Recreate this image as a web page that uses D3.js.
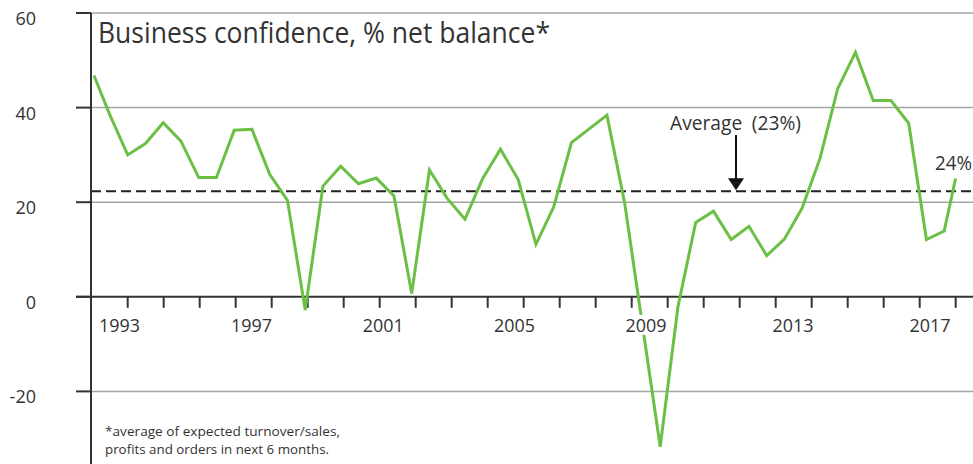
<!DOCTYPE html>
<html>
<head>
<meta charset="utf-8">
<script src="https://cdn.jsdelivr.net/npm/d3@7"></script>
<style>
  body { margin: 0; background: #fff; }
  text { font-family: "Open Sans", "Noto Sans", sans-serif; fill: #333; }
</style>
</head>
<body>
<div id="chart"></div>
<script>
// half-year periods, period 0 sits on the 1993 tick
const periods = [-1.9, -1, 0, 1, 2, 3, 4, 5, 6, 7, 8, 9, 10, 11, 12, 13, 14, 15, 16, 17, 18, 19,
    20, 21, 22, 23, 24, 25, 26, 27, 28, 29, 30, 31, 32, 33, 34, 35, 36, 37, 38, 39, 40, 41,
    42, 43, 44, 45, 46, 46.64];
const confidence = [46.8, 38.4, 30.0, 32.4, 36.8, 32.9, 25.2, 25.2, 35.2, 35.4, 25.9, 20.4,
    -2.8, 23.4, 27.6, 23.9, 25.1, 21.3, 0.7, 26.8, 20.8, 16.4, 25.0, 31.2, 24.8, 11.1, 19.0,
    32.6, 35.5, 38.4, 19.8, -6.0, -31.7, -2.1, 15.7, 18.1, 12.1, 14.9, 8.7, 12.2, 18.8, 29.2,
    44.0, 51.7, 41.5, 41.5, 36.7, 12.1, 13.9, 25.0];

const average = 22.3;
const yTicks = [60, 40, 20, 0, -20];
const tickYears = d3.range(1993, 2017);
const yearLabels = ["1993", "1997", "2001", "2005", "2009", "2013", "2017"];
const yearLabelAt = [-0.46, 6.97, 14.4, 21.79, 29.2, 37.48, 45.2];

const width = 973,
    height = 464;

const svg = d3.select("#chart").append("svg")
    .attr("width", width)
    .attr("height", height);

const x = d3.scaleLinear().domain([0, 46]).range([127.7, 944.2]);
const xYear = d3.scaleLinear().domain([1993, 2016]).range([127.7, 955.7]);
const y = d3.scaleLinear().domain([-20, 60]).range([391.4, 13]);
const axisX = 91;

// gridlines
svg.selectAll(".grid")
    .data(yTicks.filter(d => d !== 0))
    .enter()
    .append("line")
    .attr("x1", axisX)
    .attr("x2", width)
    .attr("y1", d => y(d))
    .attr("y2", d => y(d))
    .attr("stroke", "#a3a3a3")
    .attr("stroke-width", 1.5);

// average
svg.append("line")
    .attr("x1", axisX)
    .attr("x2", width)
    .attr("y1", y(average))
    .attr("y2", y(average))
    .attr("stroke", "#222")
    .attr("stroke-width", 2)
    .attr("stroke-dasharray", "10,5");

// zero line + y ticks
svg.append("line")
    .attr("x1", 76)
    .attr("x2", width)
    .attr("y1", y(0))
    .attr("y2", y(0))
    .attr("stroke", "#333")
    .attr("stroke-width", 2);

svg.selectAll(".ytick")
    .data(yTicks)
    .enter()
    .append("line")
    .attr("x1", 76)
    .attr("x2", axisX)
    .attr("y1", d => y(d))
    .attr("y2", d => y(d))
    .attr("stroke", "#333")
    .attr("stroke-width", 2);

svg.selectAll(".ylab")
    .data(yTicks)
    .enter()
    .append("text")
    .attr("x", 36)
    .attr("y", d => y(d) + 12)
    .attr("text-anchor", "end")
    .style("font-size", "18px")
    .text(d => d);

// x ticks
svg.selectAll(".xtick")
    .data(tickYears)
    .enter()
    .append("line")
    .attr("x1", d => xYear(d))
    .attr("x2", d => xYear(d))
    .attr("y1", y(0))
    .attr("y2", y(0) + 11)
    .attr("stroke", "#333")
    .attr("stroke-width", 2);

// series
const line = d3.line()
    .x((d, i) => x(periods[i]))
    .y(d => y(d));

svg.append("path")
    .datum(confidence)
    .attr("fill", "none")
    .attr("stroke", "#6cbf45")
    .attr("stroke-width", 3)
    .attr("stroke-linejoin", "miter")
    .attr("d", line);

// year labels on a white box
const labelG = svg.selectAll(".xlab")
    .data(yearLabels)
    .enter()
    .append("g")
    .attr("transform", (d, i) => `translate(${x(yearLabelAt[i])},${y(0) + 35})`);

labelG.append("rect")
    .attr("x", -22)
    .attr("y", -17)
    .attr("width", 44)
    .attr("height", 20)
    .attr("fill", "#fff");

labelG.append("text")
    .attr("text-anchor", "middle")
    .attr("textLength", 41)
    .attr("lengthAdjust", "spacingAndGlyphs")
    .style("font-size", "19px")
    .text(d => d);

// vertical axis
svg.append("line")
    .attr("x1", axisX)
    .attr("x2", axisX)
    .attr("y1", y(60))
    .attr("y2", height)
    .attr("stroke", "#333")
    .attr("stroke-width", 2);

// title
svg.append("text")
    .attr("x", 98)
    .attr("y", 43)
    .attr("textLength", 452)
    .attr("lengthAdjust", "spacingAndGlyphs")
    .style("font-size", "29px")
    .text("Business confidence, % net balance*");

// average annotation
const arrowX = x(34.27);
svg.append("line")
    .attr("x1", arrowX)
    .attr("x2", arrowX)
    .attr("y1", y(34.2))
    .attr("y2", y(average) - 10)
    .attr("stroke", "#111")
    .attr("stroke-width", 2);

svg.append("path")
    .attr("d", `M${arrowX - 8},${y(average) - 13} L${arrowX + 8},${y(average) - 13} L${arrowX},${y(average) - 1} Z`)
    .attr("fill", "#111");

svg.append("text")
    .attr("x", 670)
    .attr("y", 130)
    .attr("textLength", 131)
    .attr("lengthAdjust", "spacingAndGlyphs")
    .style("font-size", "20px")
    .text("Average\u2002(23%)");

svg.append("text")
    .attr("x", 935)
    .attr("y", 170)
    .attr("textLength", 37)
    .attr("lengthAdjust", "spacingAndGlyphs")
    .style("font-size", "20px")
    .text("24%");

// footnote
svg.append("text")
    .attr("x", 105)
    .attr("y", 436)
    .attr("textLength", 235)
    .attr("lengthAdjust", "spacingAndGlyphs")
    .style("font-size", "13px")
    .text("*average of expected turnover/sales,");

svg.append("text")
    .attr("x", 105)
    .attr("y", 454)
    .attr("textLength", 224)
    .attr("lengthAdjust", "spacingAndGlyphs")
    .style("font-size", "13px")
    .text("profits and orders in next 6 months.");
</script>
</body>
</html>
